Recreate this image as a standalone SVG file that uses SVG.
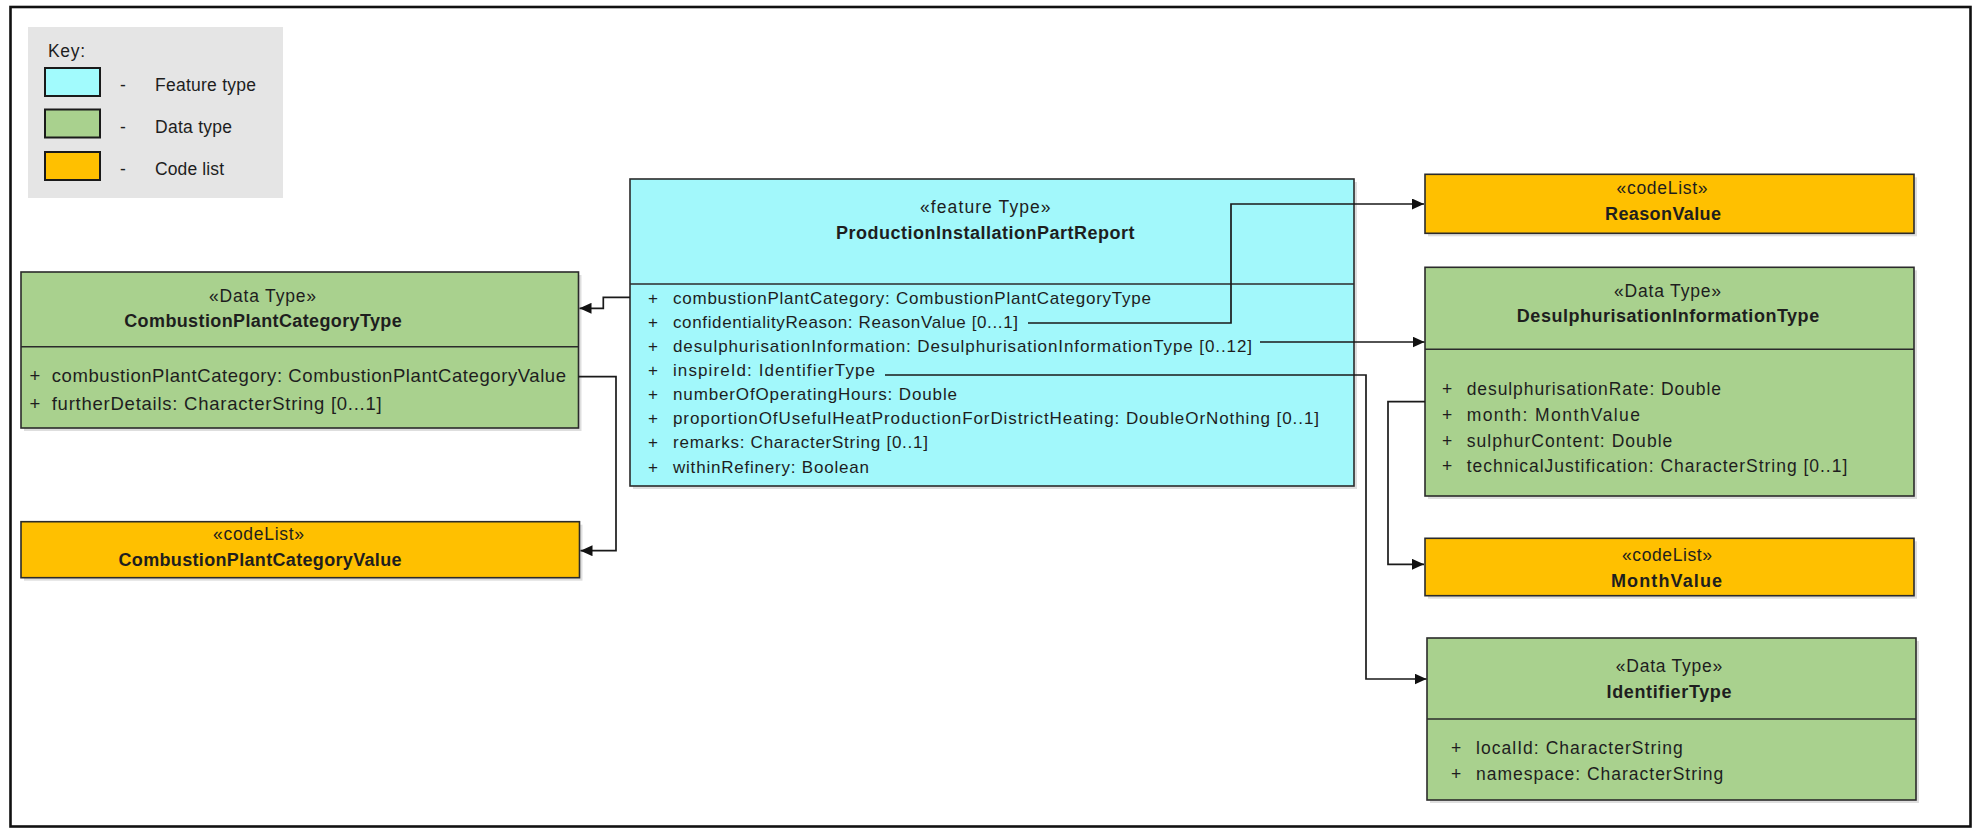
<svg xmlns="http://www.w3.org/2000/svg" width="1973" height="830" viewBox="0 0 1973 830">
<style>
text{font-family:"Liberation Sans",Arial,sans-serif;fill:#1e1e1e;}
.t{font-size:17.5px;}
.b{font-size:18px;font-weight:bold;}
.a{font-size:17px;}
.al{font-size:18.5px;}
.ar{font-size:17.5px;}
.k{font-size:17.5px;}
.box{stroke:#2b2b2b;stroke-width:1.6;}
.ft{fill:#a2f8fb;}
.dt{fill:#a9d18e;}
.cl{fill:#ffc000;}
.div{stroke:#2b2b2b;stroke-width:1.6;fill:none;}
.sh{fill:#000;opacity:0.13;}
.con path{fill:none;stroke:#1a1a1a;stroke-width:1.7;}
</style>
<defs>
<marker id="arr" markerUnits="userSpaceOnUse" markerWidth="13" markerHeight="11" refX="12" refY="5.5" orient="auto">
<path d="M0,0 L12,5.5 L0,11 Z" fill="#111"/>
</marker>
</defs>
<rect x="0" y="0" width="1973" height="830" fill="#fff"/>
<rect x="10.5" y="7" width="1960" height="819.5" fill="none" stroke="#111" stroke-width="2.6"/>

<g id="key">
<rect x="28" y="27" width="255" height="171" fill="#e5e5e5"/>
<text class="k" x="48" y="56.5" textLength="37">Key:</text>
<rect x="45" y="68" width="55" height="28" fill="#a2fbfd" stroke="#1a1a1a" stroke-width="2"/>
<rect x="45" y="109.5" width="55" height="28" fill="#a9d18e" stroke="#1a1a1a" stroke-width="2"/>
<rect x="45" y="152" width="55" height="28" fill="#ffc000" stroke="#1a1a1a" stroke-width="2"/>
<text class="k" x="120" y="91">-</text>
<text class="k" x="120" y="133">-</text>
<text class="k" x="120" y="175">-</text>
<text class="k" x="155" y="91" textLength="101">Feature type</text>
<text class="k" x="155" y="133" textLength="77">Data type</text>
<text class="k" x="155" y="175" textLength="69">Code list</text>
</g>

<g id="ProductionInstallationPartReport">
<rect class="sh" x="633" y="182" width="724" height="307"/>
<rect class="box ft" x="630" y="179" width="724" height="307"/>
<line class="div" x1="630" y1="284" x2="1354" y2="284"/>
<text class="t" x="985.3" y="212.5" text-anchor="middle" textLength="130.6">«feature Type»</text>
<text class="b" x="985.3" y="239" text-anchor="middle" textLength="298.6">ProductionInstallationPartReport</text>
<text class="a" x="648" y="303.5">+</text>
<text class="a" x="648" y="327.7">+</text>
<text class="a" x="648" y="351.8">+</text>
<text class="a" x="648" y="376">+</text>
<text class="a" x="648" y="400.1">+</text>
<text class="a" x="648" y="424.3">+</text>
<text class="a" x="648" y="448.4">+</text>
<text class="a" x="648" y="472.6">+</text>
<text class="a" x="673" y="303.5" textLength="478">combustionPlantCategory: CombustionPlantCategoryType</text>
<text class="a" x="673" y="327.7" textLength="345">confidentialityReason: ReasonValue [0...1]</text>
<text class="a" x="673" y="351.8" textLength="579">desulphurisationInformation: DesulphurisationInformationType [0..12]</text>
<text class="a" x="673" y="376" textLength="202">inspireId: IdentifierType</text>
<text class="a" x="673" y="400.1" textLength="284">numberOfOperatingHours: Double</text>
<text class="a" x="673" y="424.3" textLength="646">proportionOfUsefulHeatProductionForDistrictHeating: DoubleOrNothing [0..1]</text>
<text class="a" x="673" y="448.4" textLength="255">remarks: CharacterString [0..1]</text>
<text class="a" x="673" y="472.6" textLength="196">withinRefinery: Boolean</text>
</g>

<g id="CombustionPlantCategoryType">
<rect class="sh" x="24" y="275" width="557.5" height="156"/>
<rect class="box dt" x="21" y="272" width="557.5" height="156"/>
<line class="div" x1="21" y1="346.7" x2="578.5" y2="346.7"/>
<text class="t" x="262.5" y="302" text-anchor="middle" textLength="107">«Data Type»</text>
<text class="b" x="263" y="327" text-anchor="middle" textLength="277.5">CombustionPlantCategoryType</text>
<text class="al" x="29.5" y="382">+</text>
<text class="al" x="29.5" y="409.5">+</text>
<text class="al" x="51.7" y="382" textLength="514.3">combustionPlantCategory: CombustionPlantCategoryValue</text>
<text class="al" x="51.7" y="409.5" textLength="330">furtherDetails: CharacterString [0...1]</text>
</g>

<g id="CombustionPlantCategoryValue">
<rect class="sh" x="24" y="524.7" width="558.5" height="56"/>
<rect class="box cl" x="21" y="521.7" width="558.5" height="56"/>
<text class="t" x="258.5" y="539.5" text-anchor="middle" textLength="91">«codeList»</text>
<text class="b" x="260" y="565.5" text-anchor="middle" textLength="283">CombustionPlantCategoryValue</text>
</g>

<g id="ReasonValue">
<rect class="sh" x="1428" y="177.3" width="489" height="59"/>
<rect class="box cl" x="1425" y="174.3" width="489" height="59"/>
<text class="t" x="1662" y="194.3" text-anchor="middle" textLength="91">«codeList»</text>
<text class="b" x="1663" y="220.3" text-anchor="middle" textLength="116">ReasonValue</text>
</g>

<g id="DesulphurisationInformationType">
<rect class="sh" x="1428" y="270.3" width="489" height="228.7"/>
<rect class="box dt" x="1425" y="267.3" width="489" height="228.7"/>
<line class="div" x1="1425" y1="349.3" x2="1914" y2="349.3"/>
<text class="t" x="1667.5" y="297" text-anchor="middle" textLength="107">«Data Type»</text>
<text class="b" x="1668" y="322" text-anchor="middle" textLength="302.3">DesulphurisationInformationType</text>
<text class="ar" x="1442" y="395.3">+</text>
<text class="ar" x="1442" y="421">+</text>
<text class="ar" x="1442" y="446.7">+</text>
<text class="ar" x="1442" y="472">+</text>
<text class="ar" x="1466.7" y="395.3" textLength="254.3">desulphurisationRate: Double</text>
<text class="ar" x="1466.7" y="421" textLength="173.3">month: MonthValue</text>
<text class="ar" x="1466.7" y="446.7" textLength="205.6">sulphurContent: Double</text>
<text class="ar" x="1466.7" y="472" textLength="380.6">technicalJustification: CharacterString [0..1]</text>
</g>

<g id="MonthValue">
<rect class="sh" x="1428" y="541.3" width="489" height="57.4"/>
<rect class="box cl" x="1425" y="538.3" width="489" height="57.4"/>
<text class="t" x="1667" y="561" text-anchor="middle" textLength="90">«codeList»</text>
<text class="b" x="1666.5" y="586.7" text-anchor="middle" textLength="111">MonthValue</text>
</g>

<g id="IdentifierType">
<rect class="sh" x="1430" y="641" width="489" height="162"/>
<rect class="box dt" x="1427" y="638" width="489" height="162"/>
<line class="div" x1="1427" y1="719" x2="1916" y2="719"/>
<text class="t" x="1669" y="671.7" text-anchor="middle" textLength="106.3">«Data Type»</text>
<text class="b" x="1669" y="697.7" text-anchor="middle" textLength="125">IdentifierType</text>
<text class="ar" x="1451" y="753.7">+</text>
<text class="ar" x="1451" y="780">+</text>
<text class="ar" x="1476" y="753.7" textLength="206.7">localId: CharacterString</text>
<text class="ar" x="1476" y="780" textLength="247.3">namespace: CharacterString</text>
</g>

<g id="connectors" class="con">
<path d="M630,297.3 H603.3 V308.3 H579.5" marker-end="url(#arr)"/>
<path d="M578.5,376.7 H616 V550.7 H580.5" marker-end="url(#arr)"/>
<path d="M1028,323 H1231 V204 H1424" marker-end="url(#arr)"/>
<path d="M1260,342 H1424.5" marker-end="url(#arr)"/>
<path d="M885,375 H1366 V679 H1426.5" marker-end="url(#arr)"/>
<path d="M1425,401.7 H1388 V564.3 H1424" marker-end="url(#arr)"/>
</g>
</svg>
